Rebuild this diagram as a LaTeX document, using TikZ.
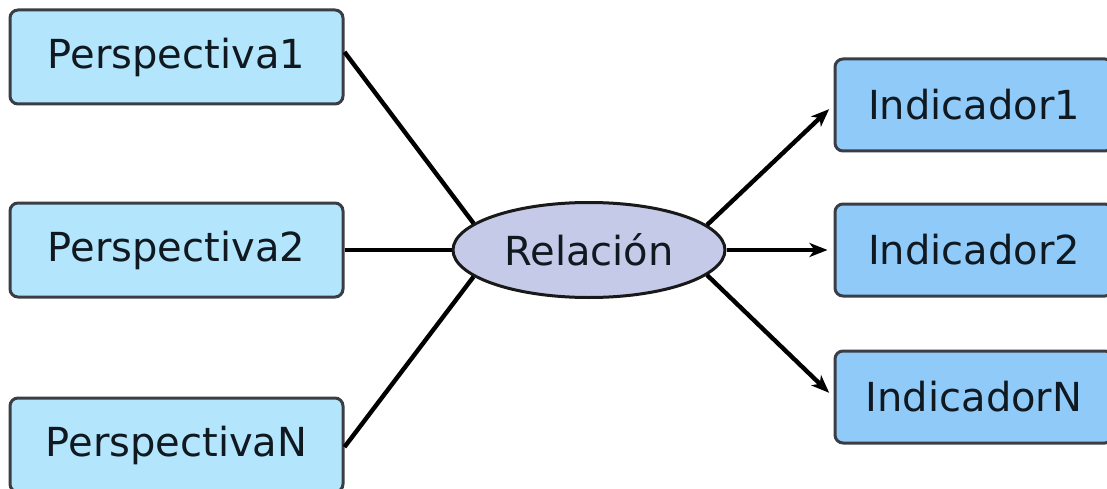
\documentclass[tikz,border=0pt]{standalone}
\usepackage{fontspec}
\setmainfont{DejaVu Sans}
\usetikzlibrary{shapes.geometric,arrows.meta}

\definecolor{perspfill}{HTML}{B3E5FC}
\definecolor{indfill}{HTML}{90CAF9}
\definecolor{relfill}{HTML}{C5CAE9}
\definecolor{edgegray}{HTML}{3A3E44}
\definecolor{inktext}{HTML}{101820}

\tikzset{
  basebox/.style={draw=edgegray, line width=3pt, rounded corners=8pt,
    text=inktext, font=\fontsize{40}{48}\selectfont, inner sep=0pt},
  perspbox/.style={basebox, fill=perspfill, minimum width=333pt, minimum height=94pt},
  indbox/.style={basebox, fill=indfill, minimum width=278pt, minimum height=92pt},
  relnode/.style={ellipse, draw=black!90, line width=3pt, fill=relfill,
    text=inktext, font=\fontsize{40}{48}\selectfont, inner sep=0pt,
    minimum width=272pt, minimum height=95pt},
  link/.style={line width=4.4pt, black},
  flow/.style={link, -{Stealth[length=18pt,width=14pt,inset=5pt]}, shorten >=6pt}
}

\begin{document}
\begin{tikzpicture}[x=1pt, y=-1pt]
  \useasboundingbox (0,0) rectangle (1107,489);
  \clip (0,0) rectangle (1107,489);
  \fill[white] (0,0) rectangle (1107,489);

  % perspectives on the left
  \node[perspbox] (p1) at (176.5,57) {Perspectiva1};
  \node[perspbox] (p2) at (176.5,250) {Perspectiva2};
  \node[perspbox] (pn) at (176.5,445) {PerspectivaN};

  % central relation
  \node[relnode] (rel) at (589,250) {Relación};

  % indicators on the right
  \node[indbox] (i1) at (974,105) {Indicador1};
  \node[indbox] (i2) at (974,250) {Indicador2};
  \node[indbox] (in) at (974,397) {IndicadorN};

  % perspectives feed the relation
  \draw[link] ([yshift=5pt]p1.east) -- (rel.167);
  \draw[link] (p2.east) -- (rel.west);
  \draw[link] ([yshift=-2pt]pn.east) -- (rel.193);

  % relation yields the indicators
  \draw[flow] (rel.12) -- (i1.west);
  \draw[flow] (rel.east) -- (i2.west);
  \draw[flow] (rel.-12) -- (in.west);
\end{tikzpicture}
\end{document}
